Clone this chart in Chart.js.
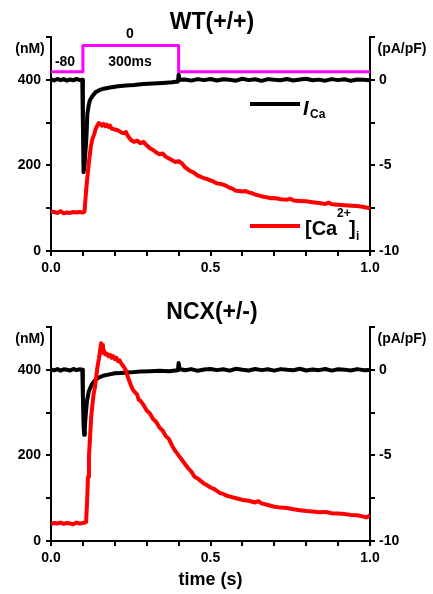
<!DOCTYPE html>
<html><head><meta charset="utf-8">
<script src="https://cdn.jsdelivr.net/npm/chart.js@4"></script>
<style>
html,body{margin:0;padding:0;background:#fff;}
#wrap{position:relative;width:433px;height:594px;overflow:hidden;}
canvas{position:absolute;left:0;}
</style></head><body>
<div id="wrap">
<canvas id="c1" width="433" height="290" style="top:0"></canvas>
<canvas id="c2" width="433" height="304" style="top:290px"></canvas>
</div>
<script>
// ---------- DATA ----------
const panelTitles = ['WT(+/+)', 'NCX(+/-)'];
const xTickLabels = ['0.0', '0.5', '1.0'];
const leftTickLabels = [0, 200, 400];      // nM
const rightTickLabels = [0, -5, -10];       // pA/pF

// Voltage protocol (-80 mV -> 0 mV for 300 ms), drawn on the nM axis
const protocolTime = [0, 0.1, 0.1, 0.4, 0.4, 1.0];
const protocolLevel = [419, 419, 480, 480, 419, 419];

const tailTime = [0.42,0.44,0.46,0.48,0.5,0.52,0.54,0.56,0.58,0.6,0.62,0.64,0.66,0.68,0.7,0.72,0.74,0.76,0.78,0.8,0.82,0.84,0.86,0.88,0.9,0.92,0.94,0.96,0.98,1.0];

// WT I_Ca (pA/pF)
const wtCurrentTime = [0,0.01,0.02,0.03,0.04,0.05,0.06,0.07,0.08,0.09,0.098,0.1,0.102,0.105,0.108,0.111,0.114,0.118,0.122,0.13,0.14,0.15,0.165,0.185,0.21,0.235,0.26,0.29,0.32,0.35,0.38,0.398,0.4,0.403].concat(tailTime);
const wtCurrent = [0.03,-0.04,0.05,-0.02,0.04,-0.05,0.02,-0.03,0.05,-0.02,0.0,-2.5,-5.4,-5.0,-4.2,-3.4,-2.0,-1.5,-1.2,-0.95,-0.72,-0.62,-0.52,-0.45,-0.38,-0.33,-0.3,-0.25,-0.21,-0.18,-0.14,-0.1,0.3,0.0,
  0.02,-0.05,0.04,-0.02,0.05,-0.04,0.03,0.0,-0.05,0.06,-0.02,0.03,-0.06,0.04,0.0,-0.03,0.05,-0.04,0.02,0.06,-0.03,0.01,-0.05,0.04,-0.02,0.03,-0.06,0.02,0.0,-0.03];

// WT [Ca2+]i (nM)
const wtCaTime = [0,0.01,0.02,0.03,0.04,0.05,0.06,0.07,0.08,0.09,0.1,0.105,0.11,0.115,0.12,0.125,0.13,0.135,0.14,0.145,0.15,0.155,0.16,0.165,0.17,0.175,0.18,0.185,0.19,0.2,0.21,0.22,0.23,0.235,0.24,0.25,0.26,0.27,0.28,0.29,0.3,0.31,0.32,0.33,0.34,0.35,0.36,0.37,0.38,0.39,0.4,0.41,0.42,0.43,0.44,0.45,0.46,0.47,0.48,0.49,0.5,0.51,0.52,0.53,0.54,0.55,0.56,0.57,0.58,0.59,0.6,0.61,0.62,0.63,0.64,0.65,0.66,0.67,0.68,0.69,0.7,0.72,0.74,0.75,0.76,0.78,0.8,0.82,0.84,0.86,0.87,0.88,0.9,0.92,0.94,0.96,0.98,1.0];
const wtCa = [92,91,89,93,88,90,89,91,90,91,90,92,140,180,215,245,262,272,285,293,299,296,293,297,292,295,290,293,286,284,282,277,275,278,270,260,255,258,252,255,247,240,236,230,226,228,220,216,212,208,210,205,196,190,186,182,176,173,170,168,165,162,158,157,155,152,148,145,141,140,139,140,137,135,132,130,128,126,125,123,124,121,120,122,118,117,116,114,112,110,113,109,108,107,106,105,103,100];

// NCX(+/-) I_Ca (pA/pF)
const ncxCurrentTime = [0,0.01,0.02,0.03,0.04,0.05,0.06,0.07,0.08,0.09,0.098,0.1,0.102,0.104,0.106,0.109,0.113,0.118,0.122,0.13,0.138,0.15,0.163,0.18,0.2,0.22,0.25,0.28,0.31,0.34,0.37,0.398,0.4,0.403].concat(tailTime);
const ncxCurrent = [0.02,-0.03,0.04,-0.05,0.03,0.0,-0.04,0.05,-0.02,0.03,0.0,-1.5,-3.2,-3.8,-3.4,-2.6,-1.8,-1.3,-1.1,-0.8,-0.6,-0.45,-0.35,-0.28,-0.2,-0.18,-0.15,-0.1,-0.08,-0.05,-0.08,-0.03,0.4,0.05,
  -0.03,0.04,-0.06,0.02,0.05,-0.02,0.03,-0.05,0.06,0.0,-0.04,0.05,-0.02,0.03,-0.05,0.04,0.0,-0.03,0.06,-0.04,0.02,-0.02,0.05,-0.05,0.03,0.01,-0.04,0.04,-0.02,-0.01];

// NCX(+/-) [Ca2+]i (nM)
const ncxCaTime = [0,0.01,0.02,0.03,0.04,0.05,0.06,0.07,0.08,0.09,0.1,0.11,0.113,0.116,0.119,0.122,0.126,0.13,0.134,0.138,0.142,0.146,0.15,0.154,0.157,0.16,0.163,0.166,0.17,0.175,0.18,0.185,0.19,0.195,0.2,0.205,0.21,0.215,0.22,0.225,0.23,0.235,0.24,0.245,0.25,0.255,0.26,0.27,0.275,0.28,0.29,0.3,0.31,0.32,0.33,0.34,0.35,0.36,0.37,0.38,0.39,0.4,0.41,0.42,0.43,0.44,0.45,0.46,0.47,0.48,0.49,0.5,0.51,0.52,0.53,0.54,0.55,0.56,0.57,0.58,0.59,0.6,0.62,0.64,0.65,0.66,0.68,0.7,0.72,0.74,0.76,0.78,0.8,0.82,0.84,0.86,0.88,0.9,0.92,0.94,0.96,0.98,0.99,1.0];
const ncxCa = [40,42,41,43,40,42,41,39,43,41,42,44,90,150,200,236,290,320,345,360,385,408,425,445,462,458,440,445,436,438,432,435,428,432,425,428,420,422,415,410,405,398,385,375,365,356,350,342,330,328,318,305,298,285,278,265,258,245,238,222,210,200,190,180,170,162,150,146,140,134,130,125,122,117,112,110,106,104,102,100,98,96,94,90,93,88,84,80,78,77,74,72,70,69,67,68,65,64,63,61,60,57,55,60];

// ---------- CHART ----------
const FONT = "'Liberation Sans', Arial, Helvetica, sans-serif";
const tickFont = {family: FONT, size: 14, weight: 'bold'};
function pts(xs, ys){ return xs.map((x,i)=>({x:x, y:ys[i]})); }
function near(a,b){ return Math.abs(a-b) < 1e-6; }

function textPlugin(title, withProtocol){
  return {
    id: 'texts',
    afterDraw(chart){
      const c = chart.ctx;
      c.save();
      c.fillStyle = '#000';
      c.textAlign = 'center'; c.textBaseline = 'middle';
      c.font = 'bold 23px ' + FONT;
      c.fillText(title, 212, 23);
      c.font = 'bold 14px ' + FONT;
      c.fillText('(nM)', 30, 49);
      c.fillText('(pA/pF)', 402, 49);
      if (withProtocol){
        c.fillText('0', 130, 34);
        c.fillText('-80', 65, 62);
        c.fillText('300ms', 130, 62);
        // legend
        c.lineWidth = 4;
        c.strokeStyle = '#000';
        c.beginPath(); c.moveTo(250,104); c.lineTo(300,104); c.stroke();
        c.strokeStyle = '#ff0000';
        c.beginPath(); c.moveTo(250,226); c.lineTo(300,226); c.stroke();
        c.textAlign = 'left'; c.textBaseline = 'alphabetic';
        c.font = 'italic bold 20px ' + FONT;
        c.fillText('I', 303, 115);
        c.font = 'bold 12px ' + FONT;
        c.fillText('Ca', 310, 118);
        c.font = 'bold 20px ' + FONT;
        c.fillText('[Ca', 305, 235);
        c.font = 'bold 12px ' + FONT;
        c.fillText('2+', 337, 217);
        c.font = 'bold 20px ' + FONT;
        c.fillText(']', 349, 235);
        c.font = 'bold 12px ' + FONT;
        c.fillText('i', 356, 240);
      }
      c.restore();
    }
  };
}

function makeChart(id, title, caT, caV, iT, iV, withProtocol, xHeight){
  const datasets = [
    {label:'[Ca2+]i', data: pts(caT, caV), yAxisID:'y', borderColor:'#ff0000', borderWidth:4},
    {label:'ICa', data: pts(iT, iV), yAxisID:'y2', borderColor:'#000000', borderWidth:4}
  ];
  if (withProtocol){
    datasets.push({label:'Vm', data: pts(protocolTime, protocolLevel), yAxisID:'y', borderColor:'#ff00ff', borderWidth:3});
  }
  const gridCfg = {drawOnChartArea:false, drawTicks:true, tickLength:5, color:'#000', lineWidth:2};
  const borderCfg = {display:true, color:'#000', width:2};
  return new Chart(document.getElementById(id), {
    type:'line',
    data:{datasets},
    options:{
      responsive:false, animation:false, devicePixelRatio:1,
      layout:{padding:{top:37, left:0, right:0, bottom:0}},
      elements:{point:{radius:0}, line:{tension:0, borderJoinStyle:'round', borderCapStyle:'butt'}},
      plugins:{legend:{display:false}, tooltip:{enabled:false}, title:{display:false}},
      scales:{
        x:{type:'linear', position:'bottom', min:0, max:1,
           ticks:{stepSize:0.1, autoSkip:false, maxRotation:0, padding:4, color:'#000', font:tickFont,
             callback:(v)=> near(v,0)?xTickLabels[0]:near(v,0.5)?xTickLabels[1]:near(v,1)?xTickLabels[2]:''},
           grid:gridCfg, border:borderCfg,
           title:{display: !withProtocol, text:'time (s)', color:'#000', font:{family:FONT, size:18, weight:'bold'}, padding:{top:0, bottom:3}},
           afterFit:(s)=>{ s.height = xHeight; s.paddingLeft = 0; s.paddingRight = 0; }
        },
        y:{type:'linear', position:'left', min:0, max:500,
           ticks:{stepSize:100, autoSkip:false, padding:5, color:'#000', font:tickFont,
             callback:(v)=> leftTickLabels.includes(v) ? String(v) : ''},
           grid:gridCfg, border:borderCfg,
           afterFit:(s)=>{ s.width = 51; s.paddingTop = 0; s.paddingBottom = 0; }
        },
        y2:{type:'linear', position:'right', min:-10, max:2.5,
           ticks:{stepSize:2.5, autoSkip:false, padding:4, color:'#000', font:tickFont,
             callback:(v)=> rightTickLabels.includes(v) ? String(v) : ''},
           grid:gridCfg, border:borderCfg,
           afterFit:(s)=>{ s.width = 63; s.paddingTop = 0; s.paddingBottom = 0; }
        }
      }
    },
    plugins:[textPlugin(title, withProtocol)]
  });
}

makeChart('c1', panelTitles[0], wtCaTime, wtCa, wtCurrentTime, wtCurrent, true, 39);
makeChart('c2', panelTitles[1], ncxCaTime, ncxCa, ncxCurrentTime, ncxCurrent, false, 53);
</script>
</body></html>
